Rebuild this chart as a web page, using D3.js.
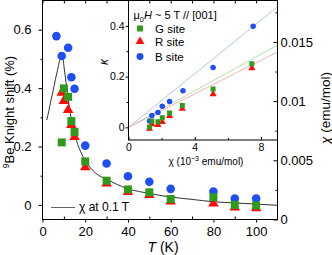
<!DOCTYPE html>
<html><head><meta charset="utf-8">
<script src="https://cdn.jsdelivr.net/npm/d3@7"></script>
<style>
body{margin:0;background:#fff}
svg{display:block}
text{font-family:"Liberation Sans",Arial,sans-serif;fill:#000}
</style>
</head><body>
<svg id="c" width="332" height="255"></svg>
<script>
// ---- main panel data: 9Be Knight shift (%) vs T (K)
const blueT  = [6.5, 9, 12, 13.5, 15, 20, 30, 40, 50, 60, 80, 90, 100];
const blueK  = [0.578, 0.510, 0.538, 0.437, 0.398, 0.203, 0.142, 0.098, 0.079, 0.055, 0.046, 0.022, 0.022];
const greenT = [9, 10, 12, 13.5, 15, 20, 30, 40, 50, 60, 80, 90, 100];
const greenK = [0.214, 0.399, 0.370, 0.287, 0.250, 0.149, 0.083, 0.053, 0.043, 0.020, 0.026, 0.000, -0.002];
const redT   = [9, 10, 12, 13.5, 15, 20, 30, 40, 50, 60, 80, 90, 100];
const redK   = [0.384, 0.356, 0.325, 0.274, 0.233, 0.129, 0.073, 0.044, 0.034, 0.012, 0.005, -0.009, -0.011];
// chi at 0.1 T (emu/mol)
const chiT   = [2, 3, 4, 5, 6, 7, 8, 9, 9.5, 10, 11, 12, 13, 14, 15, 17, 20, 25, 30, 40, 50, 60, 70, 80, 90, 100, 110];
const chiV   = [0.0084, 0.0092, 0.0101, 0.0109, 0.0118, 0.0126, 0.0134, 0.0139, 0.0137, 0.0130, 0.0116, 0.0102, 0.0090, 0.0080, 0.0072, 0.0061, 0.0050, 0.0039, 0.0034, 0.0026, 0.0022, 0.0019, 0.0017, 0.0015, 0.0014, 0.0013, 0.0012];
// ---- inset data: K vs chi (1e-3 emu/mol)
const inBlueX  = [1.27, 1.41, 1.78, 2.04, 2.48, 3.29, 5.11, 7.53];
const inBlueK  = [0.025, 0.047, 0.058, 0.083, 0.102, 0.144, 0.236, 0.398];
const inGreenX = [1.27, 1.41, 1.78, 2.04, 2.48, 3.25, 5.11, 7.45];
const inGreenK = [0.001, 0.025, 0.022, 0.038, 0.056, 0.086, 0.151, 0.251];
const inRedX   = [1.27, 1.41, 1.78, 2.04, 2.48, 3.25, 5.11, 7.45];
const inRedK   = [-0.005, 0.012, 0.009, 0.021, 0.045, 0.073, 0.131, 0.233];
const fitSlope = {B: 0.0528, G: 0.036, R: 0.033};
// ---- ticks
const xMajor = [0, 20, 40, 60, 80, 100];
const xMinor = [10, 30, 50, 70, 90];
const yLMajor = [0, 0.2, 0.4, 0.6];
const yLMinor = [0.1, 0.3, 0.5];
const yRMajor = [0, 0.005, 0.01, 0.015];
const yRMinor = [0.0025, 0.0075, 0.0125, 0.0175];
const inXMajor = [0, 4, 8];
const inXMinor = [2, 6];
const inYMajor = [0, 0.2, 0.4];
const inYMinor = [0.1, 0.3];

const colB = "#1f4ef5", colG = "#2f9a1c", colR = "#ff0a0a";
const svg = d3.select("#c");
const x  = d3.scaleLinear().domain([0, 110]).range([42.5, 277.5]);
const yL = d3.scaleLinear().domain([-0.05, 0.7]).range([219.5, 0.5]);
const yR = d3.scaleLinear().domain([0, 0.0185]).range([219.5, 0.5]);
const ix = d3.scaleLinear().domain([0, 9]).range([128.5, 277.5]);
const iy = d3.scaleLinear().domain([-0.05, 0.5]).range([140, 0.5]);

function styleAxis(g, fs) {
  g.select(".domain").remove();
  g.selectAll("line").attr("stroke", "#000");
  g.selectAll("text").attr("font-size", fs).attr("font-family", '"Liberation Sans",Arial,sans-serif');
}
const fmt = d => String(d);

// main axes
svg.append("g").attr("transform", "translate(0,219.5)")
  .call(d3.axisBottom(x).tickValues(xMajor).tickSize(3).tickPadding(4).tickFormat(fmt)).call(g => styleAxis(g, 13));
svg.append("g").attr("transform", "translate(0,219.5)")
  .call(d3.axisBottom(x).tickValues(xMinor).tickSize(-3).tickFormat("")).call(g => styleAxis(g, 13));
svg.append("g").attr("transform", "translate(42.5,0)")
  .call(d3.axisLeft(yL).tickValues(yLMajor).tickSize(4).tickPadding(7).tickFormat(fmt)).call(g => styleAxis(g, 13));
svg.append("g").attr("transform", "translate(42.5,0)")
  .call(d3.axisLeft(yL).tickValues(yLMinor).tickSize(2).tickFormat("")).call(g => styleAxis(g, 13));

// chi curve (right axis)
svg.append("path")
  .datum(chiT.map((t, i) => [t, chiV[i]]))
  .attr("fill", "none").attr("stroke", "#333").attr("stroke-width", 1)
  .attr("d", d3.line().x(d => x(d[0])).y(d => yR(d[1])).curve(d3.curveMonotoneX));

// markers
const sym = (type, size) => d3.symbol().type(type).size(size)();
function drawPts(g, xs, ys, sx, sy, type, size, col) {
  g.selectAll(null).data(xs.map((v, i) => [v, ys[i]])).enter().append("path")
    .attr("d", sym(type, size))
    .attr("transform", d => `translate(${sx(d[0])},${sy(d[1])})`)
    .attr("fill", col);
}
const mg = svg.append("g");
drawPts(mg, blueT, blueK, x, yL, d3.symbolCircle, 58, colB);
drawPts(mg, redT, redK, x, yL, d3.symbolTriangle, 48, colR);
drawPts(mg, greenT, greenK, x, yL, d3.symbolSquare, 64, colG);

// main frame
svg.append("rect").attr("x", 42.5).attr("y", 0.5).attr("width", 235).attr("height", 219)
  .attr("fill", "none").attr("stroke", "#000").attr("stroke-width", 1);

// main legend
svg.append("line").attr("x1", 51).attr("x2", 75).attr("y1", 207.5).attr("y2", 207.5).attr("stroke", "#666").attr("stroke-width", 1);
svg.append("text").attr("x", 79).attr("y", 211).attr("font-size", 12).text("χ at 0.1 T");

// ---- inset
svg.append("rect").attr("x", 128.5).attr("y", 0.5).attr("width", 149).attr("height", 139.5)
  .attr("fill", "#fff").attr("stroke", "none");
svg.append("defs").append("clipPath").attr("id", "ic").append("rect")
  .attr("x", 128.5).attr("y", 0.5).attr("width", 149).attr("height", 139.5);
const ig = svg.append("g").attr("clip-path", "url(#ic)");
const fits = [["B", "#a9bdf5"], ["G", "#a8dca0"], ["R", "#f5a8a8"]];
fits.forEach(([k, c]) => {
  ig.append("line").attr("x1", ix(0)).attr("y1", iy(0)).attr("x2", ix(9)).attr("y2", iy(fitSlope[k] * 9))
    .attr("stroke", c).attr("stroke-width", 0.9);
});
drawPts(ig, inBlueX, inBlueK, ix, iy, d3.symbolCircle, 24, colB);
drawPts(ig, inRedX, inRedK, ix, iy, d3.symbolTriangle, 22, colR);
drawPts(ig, inGreenX, inGreenK, ix, iy, d3.symbolSquare, 25, colG);

svg.append("g").attr("transform", "translate(0,140)")
  .call(d3.axisBottom(ix).tickValues(inXMajor).tickSize(-3).tickPadding(4).tickFormat(fmt)).call(g => styleAxis(g, 10.5));
svg.append("g").attr("transform", "translate(0,140)")
  .call(d3.axisBottom(ix).tickValues(inXMinor).tickSize(-2).tickFormat("")).call(g => styleAxis(g, 10.5));
svg.append("g").attr("transform", "translate(128.5,0)")
  .call(d3.axisLeft(iy).tickValues(inYMajor).tickSize(3).tickPadding(1).tickFormat(fmt)).call(g => styleAxis(g, 10.5));
svg.append("g").attr("transform", "translate(128.5,0)")
  .call(d3.axisLeft(iy).tickValues(inYMinor).tickSize(2).tickFormat("")).call(g => styleAxis(g, 10.5));
svg.append("rect").attr("x", 128.5).attr("y", 0.5).attr("width", 149).attr("height", 139.5)
  .attr("fill", "none").attr("stroke", "#000").attr("stroke-width", 1);

// inset legend
const lt = svg.append("text").attr("x", 133.5).attr("y", 19).attr("font-size", 11);
lt.append("tspan").text("μ");
lt.append("tspan").attr("font-size", 7.5).attr("dy", 2.5).text("0");
lt.append("tspan").attr("dy", -2.5).attr("font-style", "italic").text("H");
lt.append("tspan").text(" ~ 5 T // [001]");
const leg = [["G site", d3.symbolSquare, 36, colG, 28.5], ["R site", d3.symbolTriangle, 34, colR, 41.5], ["B site", d3.symbolCircle, 38, colB, 56.5]];
leg.forEach(([t, type, s, c, yy]) => {
  svg.append("path").attr("d", sym(type, s)).attr("transform", `translate(140,${yy})`).attr("fill", c);
  svg.append("text").attr("x", 155).attr("y", yy + 4).attr("font-size", 11.5).text(t);
});
// inset axis titles
svg.append("text").attr("transform", "translate(108,62) rotate(-90)").attr("text-anchor", "middle")
  .attr("font-size", 12).attr("font-style", "italic").text("κ");
const ixt = svg.append("text").attr("x", 206).attr("y", 164.5).attr("text-anchor", "middle").attr("font-size", 10);
ixt.append("tspan").text("χ  (10");
ixt.append("tspan").attr("font-size", 7).attr("dy", -4).text("−3");
ixt.append("tspan").attr("dy", 4).text(" emu/mol)");

// main top ticks & right axis (drawn over inset)
svg.append("g").attr("transform", "translate(0,0.5)")
  .call(d3.axisTop(x).tickValues(xMajor.concat(xMinor)).tickSize(-3).tickFormat("")).call(g => styleAxis(g, 13));
svg.append("g").attr("transform", "translate(277.5,0)")
  .call(d3.axisRight(yR).tickValues(yRMajor).tickSize(-4).tickPadding(3).tickFormat(fmt)).call(g => styleAxis(g, 13));
svg.append("g").attr("transform", "translate(277.5,0)")
  .call(d3.axisRight(yR).tickValues(yRMinor).tickSize(-2).tickFormat("")).call(g => styleAxis(g, 13));

// main axis titles
const xt = svg.append("text").attr("x", 163).attr("y", 252).attr("text-anchor", "middle").attr("font-size", 14);
xt.append("tspan").attr("font-style", "italic").text("T");
xt.append("tspan").text(" (K)");
const ylt = svg.append("text").attr("transform", "translate(14,112) rotate(-90)").attr("text-anchor", "middle").attr("font-size", 13);
ylt.append("tspan").attr("font-size", 8.5).attr("dy", -5).text("9");
ylt.append("tspan").attr("dy", 5).text("Be Knight shift  (%)");
const yrt = svg.append("text").attr("transform", "translate(330,108) rotate(-90)").attr("text-anchor", "middle").attr("font-size", 13.5);
yrt.append("tspan").attr("font-style", "italic").text("χ");
yrt.append("tspan").text(" (emu/mol)");
</script>
</body></html>
